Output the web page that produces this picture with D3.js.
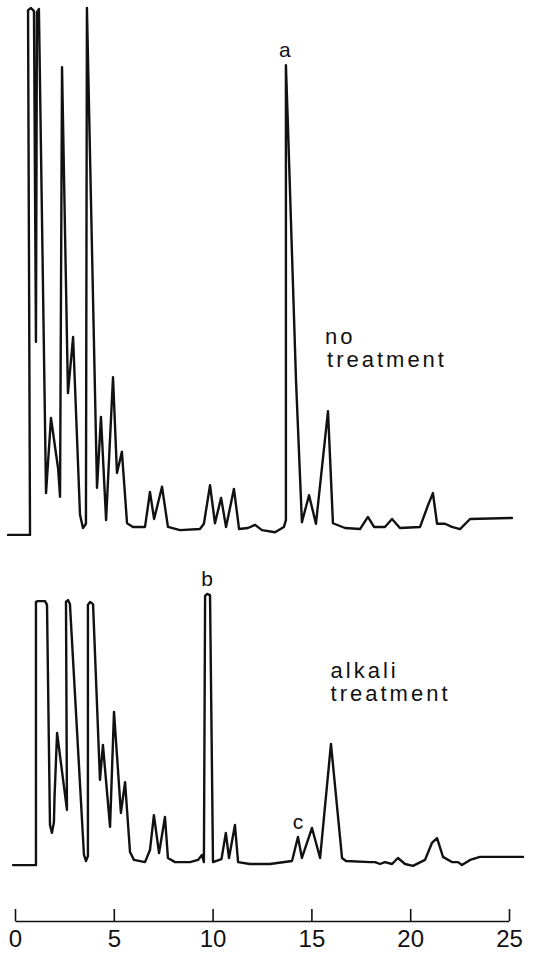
<!DOCTYPE html>
<html lang="en">
    <head>
        <meta charset="utf-8">
        <title>Chromatograms</title>
        <style type="text/css">
            body {
              margin: 0;
              background: white;
            }
            path.trace {
              fill: none;
              stroke: #111;
              stroke-width: 2.4;
              stroke-linejoin: round;
              stroke-linecap: round;
            }
            text.peak {
              font: 21px "Liberation Sans", Arial, sans-serif;
              fill: #111;
              text-anchor: middle;
            }
            text.panel {
              font: 22px "Liberation Sans", Arial, sans-serif;
              letter-spacing: 3px;
              fill: #111;
            }
            .axis text {
              font: 24px "Liberation Sans", Arial, sans-serif;
              fill: #111;
            }
            .axis path, .axis line {
              stroke: #111;
              stroke-width: 1.6;
            }
        </style>
    </head>
    <body>
        <script src="https://cdn.jsdelivr.net/npm/d3@7"></script>
        <script type="text/javascript">

          // retention time (min) and detector signal (% of full scale)
          const topTime = [-0.35, 0.76, 0.66, 0.81, 0.96, 1.06, 1.11, 1.21, 1.57, 1.82, 2.18, 2.28, 2.38, 2.68, 2.94,
                           3.29, 3.44, 3.59, 3.64, 4.15, 4.35, 4.61, 4.96, 5.16, 5.41, 5.67, 5.97, 6.58, 6.83, 7.04,
                           7.44, 7.74, 8.35, 9.36, 9.56, 9.87, 10.12, 10.43, 10.68, 11.08, 11.34, 11.79, 12.15, 12.50,
                           13.16, 13.61, 13.71, 13.71, 13.82, 14.22, 14.52, 14.88, 15.23, 15.84, 16.09, 16.70, 17.46,
                           17.86, 18.17, 18.72, 19.08, 19.48, 20.50, 20.90, 21.15, 21.36, 21.76, 22.11, 22.52, 23.03, 25.15];
          const topSignal = [0.4, 0.4, 99.6, 100, 99.4, 36.9, 99.2, 99.8, 8.3, 22.5, 13.0, 7.6, 88.8, 27.2, 37.8,
                             4.2, 1.7, 2.5, 100, 9.3, 22.7, 3.2, 30.2, 12.1, 16.1, 2.6, 1.9, 1.9, 8.5, 3.4,
                             9.5, 1.9, 1.3, 1.5, 2.5, 9.8, 2.6, 7.4, 1.9, 9.1, 1.5, 1.7, 2.3, 1.3,
                             0.9, 1.9, 3.2, 89.2, 76.9, 29.7, 2.8, 7.9, 2.5, 23.8, 2.6, 1.7, 1.5,
                             3.8, 1.9, 1.9, 3.4, 1.7, 1.9, 6.0, 8.3, 2.5, 2.5, 1.9, 1.5, 3.4, 3.6];

          const bottomTime = [-0.10, 1.06, 1.06, 1.16, 1.52, 1.62, 1.77, 1.87, 1.97, 2.00, 2.13, 2.63, 2.58, 2.68, 2.78,
                              3.49, 3.59, 3.69, 3.69, 3.80, 3.95, 4.30, 4.45, 4.81, 5.01, 5.36, 5.57, 5.82, 6.02, 6.58,
                              6.83, 7.03, 7.29, 7.59, 7.74, 8.10, 8.86, 9.26, 9.46, 9.56, 9.62, 9.72, 9.87, 10.02, 10.45,
                              10.67, 10.83, 11.13, 11.29, 11.89, 12.90, 14.02, 14.32, 14.52, 15.03, 15.44, 15.99, 16.55,
                              16.75, 17.97, 18.22, 18.47, 18.72, 19.08, 19.38, 19.74, 20.14, 20.75, 21.10, 21.36, 21.66,
                              22.11, 22.42, 22.62, 23.03, 23.53, 25.71];
          const bottomSignal = [0.7, 0.7, 97.1, 97.4, 97.4, 96.0, 15.4, 12.5, 16.5, 25.6, 49.1, 20.9, 97.1, 97.8, 96.3,
                                4.4, 2.2, 4.0, 96.0, 97.1, 96.3, 31.9, 44.7, 14.7, 56.8, 19.8, 31.1, 5.5, 2.6, 1.8,
                                6.2, 19.0, 5.1, 18.3, 3.3, 1.8, 1.8, 2.6, 4.4, 1.8, 99.3, 100, 99.6, 1.8, 2.9,
                                12.5, 3.3, 15.4, 1.8, 1.1, 1.1, 2.2, 11.0, 3.3, 14.3, 3.3, 45.1, 3.3,
                                2.2, 1.8, 1.8, 1.1, 1.8, 1.1, 3.3, 1.1, 0.4, 2.6, 8.8, 10.6, 3.7,
                                1.8, 1.8, 0.7, 2.6, 3.7, 3.7];

          // peak letters: top trace gets "a", bottom trace gets "b" and "c"
          const peakLabels = ["a", "b", "c"];
          const peakPanels = ["top", "bottom", "bottom"];
          const peakTimes = [13.66, 9.72, 14.32];
          const peakHeights = [89.2, 100, 11.0];

          const panelLabels = [["no", "treatment"], ["alkali", "treatment"]];
          const tickValues = [0, 5, 10, 15, 20, 25];

          const width = 534, height = 953;

          const svg = d3.select("body")
                        .append("svg")
                        .attr("width", width)
                        .attr("height", height);

          // time scale shared by both traces
          const xScale = d3.scaleLinear()
                           .domain([0, 25])
                           .range([15, 509]);

          const yTop = d3.scaleLinear()
                         .domain([0, 100])
                         .range([537, 8]);

          const yBottom = d3.scaleLinear()
                            .domain([0, 100])
                            .range([867, 594]);

          function drawTrace(times, signal, yScale) {
            const line = d3.line()
                           .x(function(d, i) { return xScale(times[i]); })
                           .y(function(d) { return yScale(d); });
            svg.append("path")
               .attr("class", "trace")
               .attr("d", line(signal));
          }

          drawTrace(topTime, topSignal, yTop);
          drawTrace(bottomTime, bottomSignal, yBottom);

          // letters over the marked peaks
          svg.selectAll("text.peak")
             .data(peakLabels)
             .enter()
             .append("text")
             .attr("class", "peak")
             .attr("x", function(d, i) { return xScale(peakTimes[i]); })
             .attr("y", function(d, i) {
               const ys = peakPanels[i] == "top" ? yTop : yBottom;
               return ys(peakHeights[i]) - 8;
             })
             .text(function(d) { return d; });

          // panel captions
          const captionPos = [[15.69, yTop(36.5)], [15.97, yBottom(69.2)]];
          panelLabels.forEach(function(lines, k) {
            const t = svg.append("text")
                         .attr("class", "panel")
                         .attr("x", xScale(captionPos[k][0]))
                         .attr("y", captionPos[k][1]);
            lines.forEach(function(s, j) {
              t.append("tspan")
               .attr("x", xScale(captionPos[k][0]) + (k == 0 && j == 1 ? 2 : 0))
               .attr("dy", j == 0 ? 0 : 23)
               .text(s);
            });
          });

          // time axis, ticks pointing up
          const xAxis = d3.axisBottom(xScale)
                          .tickValues(tickValues)
                          .tickSize(-12)
                          .tickSizeOuter(0)
                          .tickPadding(9)
                          .tickFormat(d3.format("d"));

          svg.append("g")
             .attr("class", "axis")
             .attr("transform", "translate(0,921)")
             .call(xAxis);

        </script>
    </body>
</html>
